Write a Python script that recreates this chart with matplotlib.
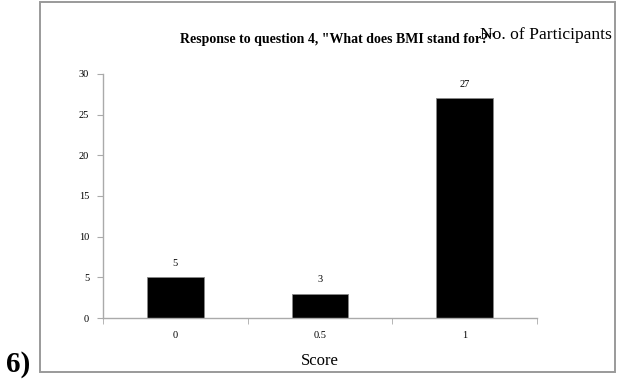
import matplotlib.pyplot as plt
from matplotlib.patches import Rectangle

plt.rcParams['font.family'] = ['Liberation Serif', 'DejaVu Serif']

scores = ["0", "0.5", "1"]
participants = [5, 3, 27]
y_ticks = [0, 5, 10, 15, 20, 25, 30]

W, H = 621, 381
fig = plt.figure(figsize=(W / 100, H / 100), dpi=100)
fig.patch.set_facecolor('white')

# grey frame around the chart area
fig.patches.append(Rectangle((40 / W, 1 - 372 / H), 575 / W, 370 / H,
                             transform=fig.transFigure, fill=False,
                             edgecolor='#9a9a9a', linewidth=1.4))

ax = fig.add_axes([103 / W, (H - 318) / H, 434 / W, 244 / H])
x = list(range(len(scores)))
ax.bar(x, participants, width=0.39, color='black',
       edgecolor='#888888', linewidth=0.6)

for xi, v in zip(x, participants):
    ax.annotate(str(v), (xi, v), xytext=(0, 7), textcoords='offset points',
                ha='center', va='bottom', fontsize=7.5)

ax.set_xlim(-0.5, len(scores) - 0.5)
ax.set_ylim(0, 30)
ax.set_yticks(y_ticks)
ax.set_yticklabels([str(t) for t in y_ticks], fontsize=7.5)
ax.set_xticks(x)
ax.set_xticklabels(scores, fontsize=7.5)
ax.tick_params(axis='x', length=0, pad=9)
ax.set_xticks([i + 0.5 for i in range(-1, len(scores))], minor=True)
ax.tick_params(axis='x', which='minor', length=4, color='#aaaaaa', direction='out')
ax.tick_params(axis='y', length=4, color='#aaaaaa', direction='out', pad=6)

for side in ['top', 'right']:
    ax.spines[side].set_visible(False)
for side in ['left', 'bottom']:
    ax.spines[side].set_color('#aaaaaa')
    ax.spines[side].set_linewidth(1.0)

fig.text(320 / W, 1 - 365 / H, 'Score', fontsize=12, ha='center', va='baseline')

fig.text(180 / W, 1 - 43 / H,
         'Response to question 4, "What does BMI stand for?"',
         fontsize=10, fontweight='bold', ha='left', va='baseline')
fig.text(480 / W, 1 - 39 / H, 'No. of Participants',
         fontsize=12.6, ha='left', va='baseline')

fig.text(6 / W, 1 - 372 / H, '6)', fontsize=21, fontweight='bold',
         ha='left', va='baseline')

fig.savefig('out.png', dpi=100, facecolor='white')
